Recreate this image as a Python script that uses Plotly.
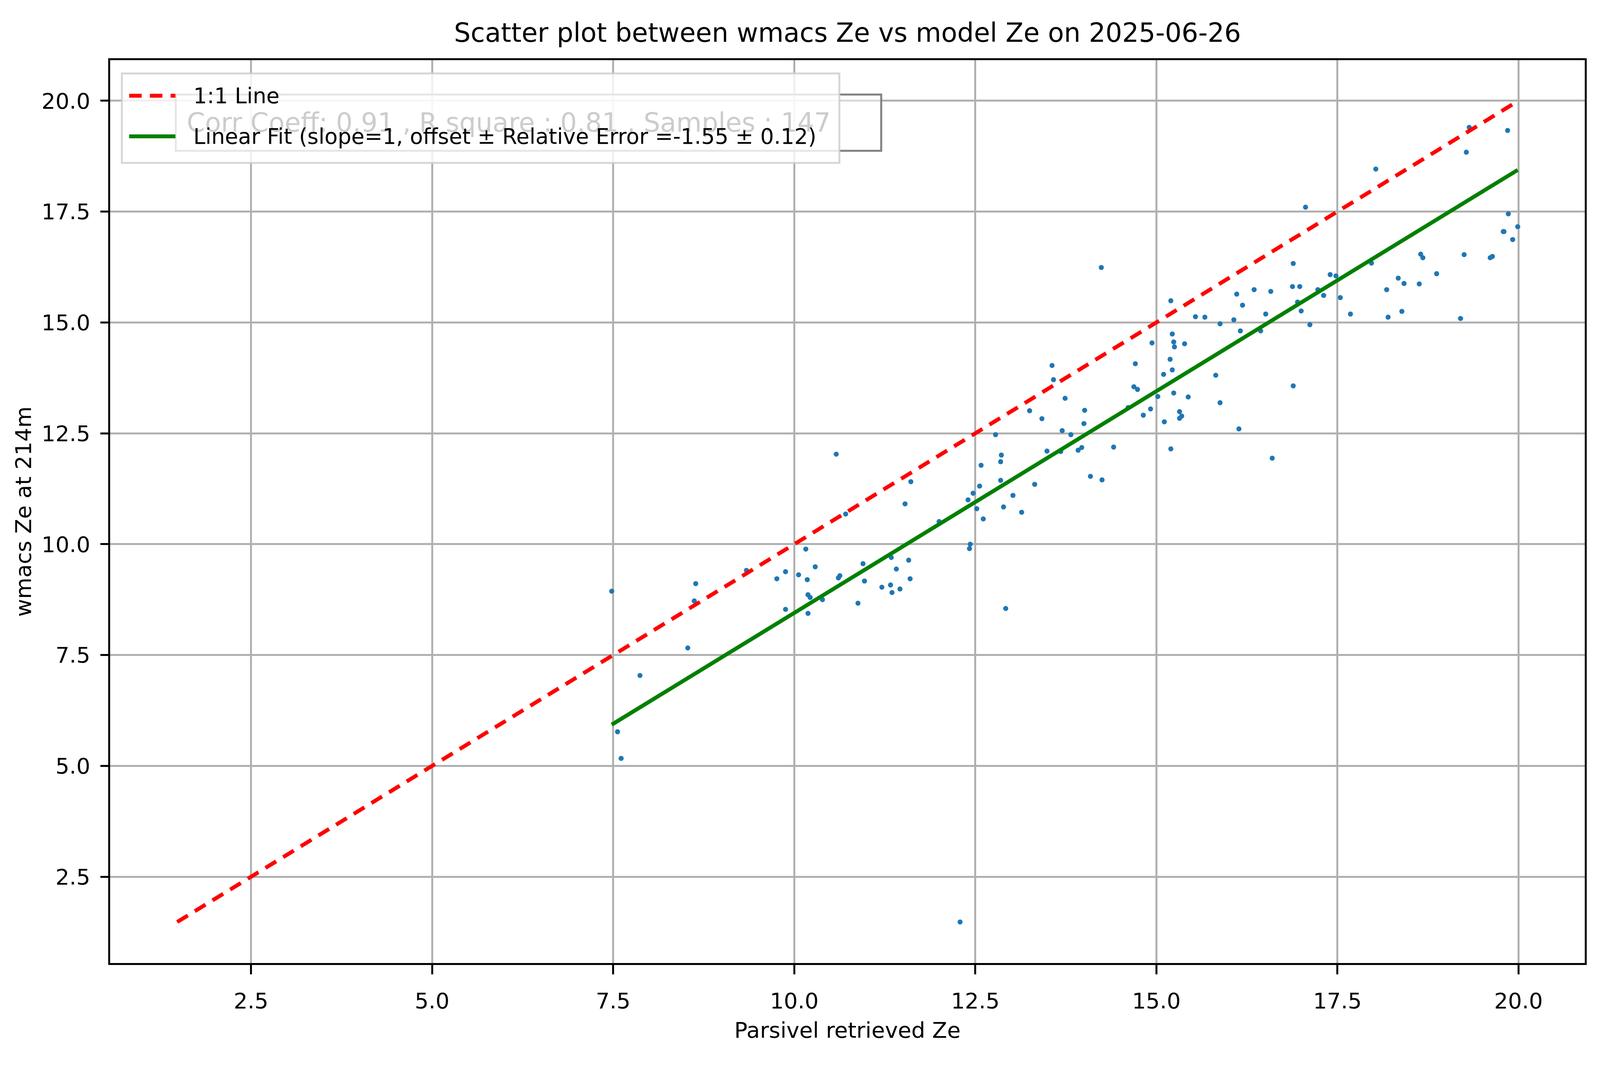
"""
Scatter plot of wmacs Ze against Parsivel retrieved Ze, with a 1:1 line
and a slope-1 linear fit.
"""

import plotly.graph_objects as go
import numpy as np

# values
DATE = "2025-06-26"
HEIGHT_M = 214
CORR_COEFF = 0.91
R_SQUARE = 0.81
FIT_SLOPE = 1
FIT_OFFSET = -1.55
FIT_REL_ERROR = 0.12

parsivel_ze = [
    10.58, 11.61, 11.53, 10.71, 10.16, 10.29, 9.88, 10.06, 9.76, 9.34,
    10.18, 10.61, 10.63, 10.95, 10.97, 11.34, 11.41, 11.58, 11.60, 11.21,
    11.33, 11.35, 11.46, 10.88, 10.39, 10.19, 10.22, 10.19, 9.88, 8.64,
    8.62, 7.48, 8.53, 7.87, 7.56, 7.61,
    14.24, 15.20, 15.54, 15.67, 15.88, 15.22, 15.24, 15.25, 15.39, 14.94,
    15.19, 15.22, 15.10, 14.71, 14.69, 14.74, 15.82, 15.88, 15.02, 15.24,
    15.44, 14.61, 14.92, 14.82, 15.11, 15.32, 15.35, 15.32, 15.20, 14.41,
    14.09, 14.25, 13.56, 13.58, 13.74, 13.25, 13.42, 14.01, 14.00, 13.70,
    13.82, 13.49, 13.68, 13.92, 13.97, 12.78, 12.86, 12.85, 12.58, 12.85,
    12.56, 12.47, 12.40, 12.52, 12.61, 12.89, 13.02, 13.14, 13.32, 12.00,
    12.43, 12.42, 12.92, 12.29,
    19.32, 19.85, 19.28, 18.03, 17.06, 19.86, 19.99, 19.79, 19.80, 19.92,
    16.89, 18.65, 18.68, 19.25, 19.61, 19.64, 17.97, 17.40, 17.48, 18.87,
    18.34, 18.42, 18.63, 18.18, 18.39, 18.20, 19.20, 17.68, 17.54, 17.31,
    17.23, 16.95, 17.00, 17.12, 16.88, 16.98, 16.58, 16.35, 16.11, 16.19,
    16.51, 16.07, 16.16, 16.44, 16.89, 16.14, 16.60,
]
wmacs_ze = [
    12.03, 11.41, 10.91, 10.68, 9.89, 9.49, 9.38, 9.31, 9.22, 9.41,
    9.20, 9.24, 9.29, 9.56, 9.17, 9.70, 9.44, 9.64, 9.22, 9.03,
    9.08, 8.91, 8.99, 8.67, 8.75, 8.86, 8.80, 8.44, 8.53, 9.11,
    8.72, 8.94, 7.66, 7.04, 5.77, 5.17,
    16.24, 15.49, 15.13, 15.12, 14.97, 14.74, 14.56, 14.45, 14.52, 14.54,
    14.17, 13.93, 13.83, 14.07, 13.55, 13.49, 13.81, 13.19, 13.33, 13.41,
    13.32, 13.08, 13.05, 12.91, 12.76, 12.99, 12.89, 12.84, 12.15, 12.19,
    11.53, 11.45, 14.03, 13.71, 13.29, 13.01, 12.83, 13.02, 12.72, 12.56,
    12.47, 12.10, 12.09, 12.12, 12.18, 12.47, 12.01, 11.86, 11.78, 11.44,
    11.31, 11.15, 11.00, 10.80, 10.57, 10.84, 11.10, 10.72, 11.35, 10.51,
    10.00, 9.90, 8.55, 1.48,
    19.40, 19.33, 18.84, 18.46, 17.60, 17.45, 17.16, 17.05, 17.05, 16.87,
    16.33, 16.54, 16.46, 16.53, 16.46, 16.49, 16.34, 16.08, 16.05, 16.10,
    16.00, 15.88, 15.87, 15.74, 15.25, 15.12, 15.09, 15.19, 15.56, 15.61,
    15.74, 15.46, 15.26, 14.95, 15.81, 15.81, 15.70, 15.74, 15.64, 15.39,
    15.19, 15.06, 14.81, 14.81, 13.57, 12.60, 11.94,
]
tick_values = [2.5, 5.0, 7.5, 10.0, 12.5, 15.0, 17.5, 20.0]
tick_labels = [f"{t:.1f}" for t in tick_values]

FONT = "DejaVu Sans"

# the page is 4096 px wide; the original layout was 5048 px wide,
# so horizontal distances are squeezed by SX, vertical ones kept
SX = 4096 / 5048
BODY = 8  # default page margin around the plot div
W, H = 4096 - 2 * BODY, 2726 - 2 * BODY
# plot area of the original, in its own pixels
AX_L, AX_R, AX_T, AX_B = 347, 5000, 154, 2465


def fx(px):
    return px * SX - BODY


def fy(py):
    return py - BODY


def px_x(px):
    return (px - AX_L) / (AX_R - AX_L)


def px_y(py):
    return 1 - (py - AX_T) / (AX_B - AX_T)


x = np.array(parsivel_ze)
y = np.array(wmacs_ze)

# 1:1 line spans the full data extent, fit spans the x data
line_lo = min(x.min(), y.min())
line_hi = max(x.max(), y.max())
one_to_one = np.array([line_lo, line_hi])
fit_x = np.array([x.min(), x.max()])
fit_y = FIT_SLOPE * fit_x + FIT_OFFSET

span = line_hi - line_lo
axis_range = [line_lo - 0.05 * span, line_hi + 0.05 * span]

DASH = "32px,21px"
LINE_W = 10

fig = go.Figure()
fig.add_trace(
    go.Scatter(
        x=x, y=y, mode="markers",
        marker=dict(size=13, color="#1f77b4", line=dict(width=0)),
        name="samples",
    )
)
fig.add_trace(
    go.Scatter(
        x=one_to_one, y=one_to_one, mode="lines",
        line=dict(color="red", width=LINE_W, dash=DASH),
        name="1:1 Line",
    )
)
fig.add_trace(
    go.Scatter(
        x=fit_x, y=fit_y, mode="lines",
        line=dict(color="green", width=LINE_W),
        name="Linear Fit",
    )
)

axis_common = dict(
    range=axis_range,
    tickvals=tick_values,
    ticktext=tick_labels,
    showgrid=True,
    gridcolor="#b0b0b0",
    zeroline=False,
    showline=True,
    linecolor="black",
    mirror=True,
    ticks="outside",
    tickcolor="black",
    tickfont=dict(family=FONT, size=56, color="black"),
)

fig.update_layout(
    width=W,
    height=H,
    margin=dict(l=fx(AX_L), r=W - fx(AX_R), t=fy(AX_T), b=H - fy(AX_B), pad=0),
    paper_bgcolor="white",
    plot_bgcolor="white",
    showlegend=False,
    font=dict(family=FONT, color="black"),
    title=dict(
        text=f"Scatter plot between wmacs Ze vs model Ze on {DATE}",
        font=dict(family=FONT, size=67, color="black"),
        x=0.5, xref="paper", xanchor="center",
        y=1 - fy(84) / H, yref="container", yanchor="middle",
    ),
    xaxis=dict(
        axis_common,
        gridwidth=4.5, linewidth=5, ticklen=24, tickwidth=4.5,
        ticklabelstandoff=20,
        title=dict(text="Parsivel retrieved Ze",
                   font=dict(family=FONT, size=56), standoff=25),
    ),
    yaxis=dict(
        axis_common,
        gridwidth=5, linewidth=4.5, ticklen=20, tickwidth=5,
        ticklabelstandoff=15,
        title=dict(text=f"wmacs Ze at {HEIGHT_M}m",
                   font=dict(family=FONT, size=56), standoff=10),
    ),
)

# stats text box (sits behind the legend)
stats_text = (f"Corr Coeff: {CORR_COEFF:.2f} , R square : {R_SQUARE:.2f} , "
              f"Samples : {len(x)}")
fig.add_shape(
    type="rect", xref="paper", yref="paper", layer="above",
    x0=px_x(554), x1=px_x(2780), y0=px_y(386), y1=px_y(242),
    line=dict(color="#808080", width=5), fillcolor="rgba(255,255,255,0.5)",
)
fig.add_annotation(
    text=stats_text, xref="paper", yref="paper",
    x=px_x(586), y=px_y(314), xanchor="left", yanchor="middle",
    showarrow=False, font=dict(family=FONT, size=67, color="#cccccc"),
)

# legend drawn by hand so the handles keep matplotlib proportions
fig.add_shape(
    type="rect", xref="paper", yref="paper", layer="above",
    x0=px_x(384), x1=px_x(2648), y0=px_y(417), y1=px_y(188),
    line=dict(color="rgba(204,204,204,0.8)", width=5),
    fillcolor="rgba(255,255,255,0.8)",
)
legend_rows = [
    ("1:1 Line", "red", DASH, 245),
    (f"Linear Fit (slope={FIT_SLOPE}, offset \u00b1 Relative Error "
     f"={FIT_OFFSET:.2f} \u00b1 {FIT_REL_ERROR:.2f})", "green", "solid", 349),
]
for label, colour, dash, row_y in legend_rows:
    fig.add_shape(
        type="line", xref="paper", yref="paper", layer="above",
        x0=px_x(407), x1=px_x(553), y0=px_y(row_y), y1=px_y(row_y),
        line=dict(color=colour, width=LINE_W, dash=dash),
    )
    fig.add_annotation(
        text=label, xref="paper", yref="paper",
        x=px_x(607), y=px_y(row_y), xanchor="left", yanchor="middle",
        showarrow=False, font=dict(family=FONT, size=55, color="black"),
    )

fig.write_html("out.html")
